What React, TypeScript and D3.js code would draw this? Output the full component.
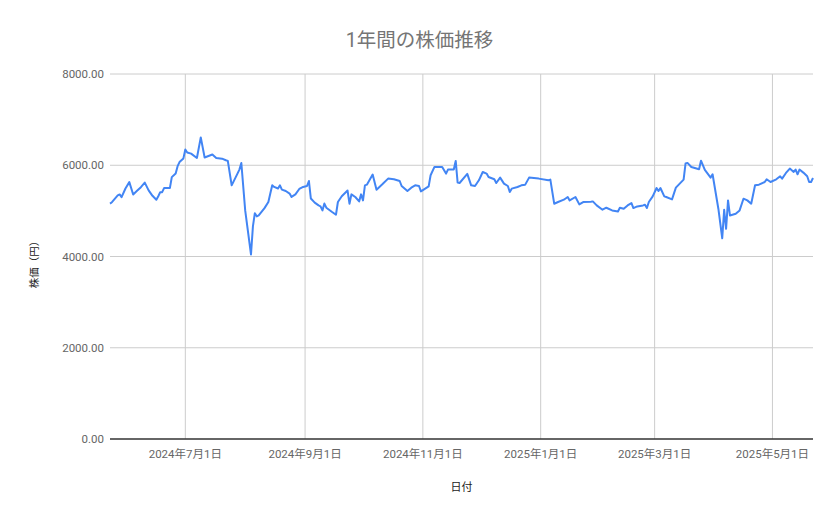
import * as d3 from 'd3'

const dates = [
  '2024-05-23', '2024-05-24', '2024-05-27', '2024-05-28', '2024-05-29', '2024-05-31', '2024-06-02', '2024-06-04',
  '2024-06-06', '2024-06-08', '2024-06-10', '2024-06-12', '2024-06-14', '2024-06-16', '2024-06-17', '2024-06-18',
  '2024-06-19', '2024-06-20', '2024-06-23', '2024-06-24', '2024-06-26', '2024-06-27', '2024-06-28', '2024-06-30',
  '2024-07-01', '2024-07-02', '2024-07-04', '2024-07-07', '2024-07-09', '2024-07-11', '2024-07-15', '2024-07-17',
  '2024-07-20', '2024-07-22', '2024-07-23', '2024-07-25', '2024-07-28', '2024-07-29', '2024-07-30', '2024-08-01',
  '2024-08-04', '2024-08-05', '2024-08-06', '2024-08-07', '2024-08-08', '2024-08-11', '2024-08-13', '2024-08-14',
  '2024-08-15', '2024-08-16', '2024-08-18', '2024-08-19', '2024-08-20', '2024-08-22', '2024-08-24', '2024-08-25',
  '2024-08-27', '2024-08-29', '2024-08-31', '2024-09-02', '2024-09-03', '2024-09-04', '2024-09-06', '2024-09-08',
  '2024-09-09', '2024-09-10', '2024-09-11', '2024-09-12', '2024-09-15', '2024-09-17', '2024-09-18', '2024-09-20',
  '2024-09-23', '2024-09-24', '2024-09-25', '2024-09-27', '2024-09-29', '2024-09-30', '2024-10-01', '2024-10-02',
  '2024-10-03', '2024-10-06', '2024-10-08', '2024-10-11', '2024-10-14', '2024-10-17', '2024-10-20', '2024-10-21',
  '2024-10-24', '2024-10-26', '2024-10-28', '2024-10-30', '2024-10-31', '2024-11-04', '2024-11-05', '2024-11-07',
  '2024-11-09', '2024-11-11', '2024-11-13', '2024-11-14', '2024-11-17', '2024-11-18', '2024-11-19', '2024-11-20',
  '2024-11-24', '2024-11-26', '2024-11-28', '2024-11-30', '2024-12-02', '2024-12-04', '2024-12-05', '2024-12-08',
  '2024-12-09', '2024-12-11', '2024-12-13', '2024-12-15', '2024-12-16', '2024-12-17', '2024-12-20', '2024-12-22',
  '2024-12-24', '2024-12-26', '2024-12-31', '2025-01-05', '2025-01-06', '2025-01-08', '2025-01-10', '2025-01-13',
  '2025-01-15', '2025-01-16', '2025-01-19', '2025-01-21', '2025-01-23', '2025-01-27', '2025-01-28', '2025-01-30',
  '2025-02-02', '2025-02-04', '2025-02-07', '2025-02-10', '2025-02-11', '2025-02-13', '2025-02-15', '2025-02-17',
  '2025-02-18', '2025-02-20', '2025-02-23', '2025-02-24', '2025-02-25', '2025-02-26', '2025-02-28', '2025-03-02',
  '2025-03-03', '2025-03-04', '2025-03-06', '2025-03-07', '2025-03-10', '2025-03-12', '2025-03-14', '2025-03-16',
  '2025-03-17', '2025-03-18', '2025-03-20', '2025-03-24', '2025-03-25', '2025-03-27', '2025-03-30', '2025-03-31',
  '2025-04-03', '2025-04-05', '2025-04-06', '2025-04-07', '2025-04-08', '2025-04-09', '2025-04-12', '2025-04-14',
  '2025-04-16', '2025-04-18', '2025-04-20', '2025-04-22', '2025-04-24', '2025-04-27', '2025-04-28', '2025-04-30',
  '2025-05-03', '2025-05-05', '2025-05-06', '2025-05-08', '2025-05-10', '2025-05-12', '2025-05-13', '2025-05-14',
  '2025-05-15', '2025-05-17', '2025-05-19', '2025-05-20', '2025-05-21', '2025-05-22'
]

const prices = [
  5160, 5190, 5340, 5360, 5300, 5490, 5630, 5360,
  5440, 5520, 5620, 5450, 5330, 5245, 5320, 5410,
  5410, 5500, 5500, 5740, 5820, 5980, 6070, 6150,
  6345, 6280, 6255, 6160, 6610, 6170, 6235, 6160,
  6145, 6110, 6095, 5560, 5817, 5905, 6050, 5010,
  4045, 4660, 4950, 4880, 4900, 5060, 5195, 5380,
  5560, 5525, 5490, 5560, 5465, 5435, 5380, 5305,
  5360, 5480, 5525, 5545, 5655, 5270, 5180, 5120,
  5100, 5010, 5160, 5070, 4975, 4915, 5195, 5320,
  5445, 5157, 5362, 5304, 5208, 5362, 5230, 5560,
  5575, 5795, 5465, 5582, 5707, 5692, 5655, 5545,
  5436, 5509, 5560, 5545, 5428, 5538, 5780, 5963,
  5963, 5963, 5817, 5905, 5905, 6095, 5619, 5611,
  5810, 5560, 5545, 5670, 5853, 5817, 5743, 5692,
  5611, 5729, 5597, 5545, 5414, 5487, 5524, 5560,
  5575, 5729, 5707, 5670, 5685, 5157, 5194, 5245,
  5304, 5230, 5304, 5142, 5194, 5201, 5208, 5120,
  5025, 5069, 5010, 4988, 5069, 5047, 5120, 5172,
  5062, 5098, 5120, 5135, 5062, 5194, 5318, 5501,
  5436, 5501, 5318, 5304, 5252, 5509, 5597, 5685,
  6037, 6051, 5963, 5912, 6100, 5900, 5729, 5802,
  5047, 4400, 5025, 4607, 5230, 4900, 4937, 5010,
  5267, 5230, 5157, 5560, 5575, 5633, 5692, 5633,
  5692, 5758, 5707, 5831, 5927, 5853, 5905, 5802,
  5905, 5839, 5758, 5633, 5633, 5721
]

const yTicks = [0, 2000, 4000, 6000, 8000]
const xTickDates = ['2024-07-01', '2024-09-01', '2024-11-01', '2025-01-01', '2025-03-01', '2025-05-01']

const W = 839
const H = 519
const margin = { top: 74, right: 26, bottom: 80, left: 110 }

const parse = d3.timeParse('%Y-%m-%d')
const jpFont = "Roboto, 'Noto Sans CJK JP', sans-serif"
const cjkFont = "'Noto Sans CJK JP', sans-serif"

export default function App() {
  const data = dates.map((d, i) => ({ date: parse(d) as Date, value: prices[i] }))

  const x = d3.scaleTime()
    .domain(d3.extent(data, d => d.date) as [Date, Date])
    .range([margin.left, W - margin.right])

  const y = d3.scaleLinear()
    .domain([0, 8000])
    .range([H - margin.bottom, margin.top])

  const line = d3.line<{ date: Date; value: number }>()
    .x(d => x(d.date))
    .y(d => y(d.value))

  const xTicks = xTickDates.map(d => parse(d) as Date)
  const fmtX = d3.timeFormat('%Y年%-m月%-d日')
  const fmtY = d3.format('.2f')

  return (
    <svg width={W} height={H} style={{ position: 'absolute', left: 0, top: 0, background: '#fff' }}>
      {/* title */}
      <text x={W / 2} y={47} textAnchor="middle" fontSize={19.5} fill="#757575" fontFamily={jpFont}>
        1年間の株価推移
      </text>

      {/* horizontal grid + y labels */}
      {yTicks.map(t => (
        <g key={t}>
          {t !== 0 && (
            <line x1={margin.left} x2={W - margin.right} y1={y(t)} y2={y(t)} stroke="#cccccc" strokeWidth={1} />
          )}
          <text x={margin.left - 6} y={y(t)} dy="0.35em" textAnchor="end" fontSize={11.5} fill="#666" fontFamily={jpFont}>
            {fmtY(t)}
          </text>
        </g>
      ))}

      {/* vertical grid + x labels */}
      {xTicks.map(t => (
        <g key={t.toISOString()}>
          <line x1={x(t)} x2={x(t)} y1={margin.top} y2={H - margin.bottom} stroke="#cccccc" strokeWidth={1} />
          <text x={x(t)} y={H - margin.bottom + 19} textAnchor="middle" fontSize={11.5} fill="#666" fontFamily={jpFont}>
            {fmtX(t)}
          </text>
        </g>
      ))}

      {/* baseline */}
      <line x1={margin.left} x2={W - margin.right} y1={y(0)} y2={y(0)} stroke="#333" strokeWidth={1.3} />

      {/* series */}
      <path d={line(data) || ''} fill="none" stroke="#4285f4" strokeWidth={2} strokeLinejoin="round" />

      {/* axis titles */}
      <text x={(margin.left + W - margin.right) / 2} y={491} textAnchor="middle" fontSize={11} fill="#222" fontFamily={cjkFont}>
        日付
      </text>
      <text
        transform={`translate(38, 262) rotate(-90)`}
        textAnchor="middle"
        fontSize={10.5}
        fill="#222"
        fontFamily={cjkFont}
      >
        株価（円）
      </text>
    </svg>
  )
}
